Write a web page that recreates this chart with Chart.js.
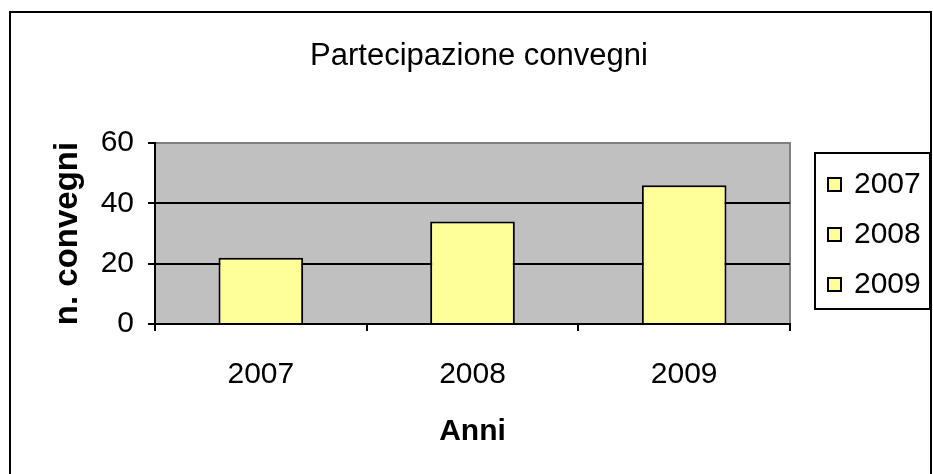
<!DOCTYPE html>
<html>
<head>
<meta charset="utf-8">
<script src="https://cdn.jsdelivr.net/npm/chart.js@4"></script>
<style>
  html, body { margin: 0; padding: 0; background: #fff; }
  #grafico { display: block; }
</style>
</head>
<body>
<canvas id="grafico" width="933" height="474"></canvas>
<script>
const titolo = 'Partecipazione convegni';
const anni = ['2007', '2008', '2009'];
const convegni = [22, 34, 46];
const tickY = [0, 20, 40, 60];

const fontBase = 'Liberation Sans, Arial, sans-serif';
const giallo = '#FFFF99';

// cornice esterna + sfondo grigio dell'area del grafico
const sfondo = {
  id: 'sfondo',
  beforeDraw(chart) {
    const c = chart.ctx;
    const a = chart.chartArea;
    c.save();
    c.fillStyle = '#fff';
    c.fillRect(0, 0, chart.width, chart.height);
    c.strokeStyle = '#000';
    c.lineWidth = 2;
    c.strokeRect(10, 12, 921, 480);
    c.fillStyle = '#C0C0C0';
    c.fillRect(a.left, a.top, a.right - a.left, a.bottom - a.top);
    c.strokeStyle = '#808080';
    c.beginPath();
    c.moveTo(a.left, a.top);
    c.lineTo(a.right, a.top);
    c.lineTo(a.right, a.bottom);
    c.stroke();
    // titolo
    c.fillStyle = '#000';
    c.font = '31px ' + fontBase;
    c.textAlign = 'center';
    c.textBaseline = 'middle';
    c.fillText(titolo, 479, 56);
    c.restore();
  }
};

// legenda con un riquadro per ogni anno
const legenda = {
  id: 'legenda',
  afterDraw(chart) {
    const c = chart.ctx;
    const colori = chart.data.datasets[0].backgroundColor;
    c.save();
    c.fillStyle = '#fff';
    c.fillRect(815, 153, 115, 156);
    c.strokeStyle = '#000';
    c.lineWidth = 2;
    c.strokeRect(815, 153, 115, 156);
    c.font = '30px ' + fontBase;
    c.textBaseline = 'middle';
    anni.forEach((anno, i) => {
      const y = 184 + i * 50;
      c.fillStyle = Array.isArray(colori) ? colori[i] : colori;
      c.fillRect(828, y - 6, 13, 13);
      c.lineWidth = 2;
      c.strokeStyle = '#000';
      c.strokeRect(828, y - 6, 13, 13);
      c.fillStyle = '#000';
      c.fillText(anno, 854, y + 1);
    });
    c.restore();
  }
};

const ctx = document.getElementById('grafico').getContext('2d');
new Chart(ctx, {
  type: 'bar',
  data: {
    labels: anni,
    datasets: [{
      data: convegni,
      backgroundColor: anni.map(() => giallo),
      borderColor: '#000',
      borderWidth: 2,
      barPercentage: 0.4,
      categoryPercentage: 1
    }]
  },
  options: {
    responsive: false,
    animation: false,
    devicePixelRatio: 1,
    layout: { padding: { left: 44, right: 143, top: 143, bottom: 20 } },
    plugins: {
      legend: { display: false },
      tooltip: { enabled: false },
      title: { display: false }
    },
    scales: {
      x: {
        grid: {
          offset: true,
          drawOnChartArea: false,
          drawTicks: true,
          tickLength: 7,
          color: '#000',
          lineWidth: 2
        },
        border: { color: '#000', width: 2 },
        ticks: {
          color: '#000',
          font: { family: fontBase, size: 30 },
          padding: 26
        },
        title: {
          display: true,
          text: 'Anni',
          color: '#000',
          font: { family: fontBase, size: 30, weight: 'bold' }
        },
        afterFit(scale) { scale.height = 130; }
      },
      y: {
        min: 0,
        max: 60,
        afterBuildTicks(scale) { scale.ticks = tickY.map(v => ({ value: v })); },
        grid: {
          color: c => (c.tick && c.tick.value === 60) ? '#808080' : '#000',
          lineWidth: 2,
          tickLength: 7,
          tickColor: '#000'
        },
        border: { color: '#000', width: 2 },
        ticks: {
          color: '#000',
          font: { family: fontBase, size: 30 },
          padding: 14
        },
        title: {
          display: true,
          text: 'n. convegni',
          color: '#000',
          font: { family: fontBase, size: 33, weight: 'bold' }
        },
        afterFit(scale) { scale.width = 111; }
      }
    }
  },
  plugins: [sfondo, legenda]
});
</script>
</body>
</html>
